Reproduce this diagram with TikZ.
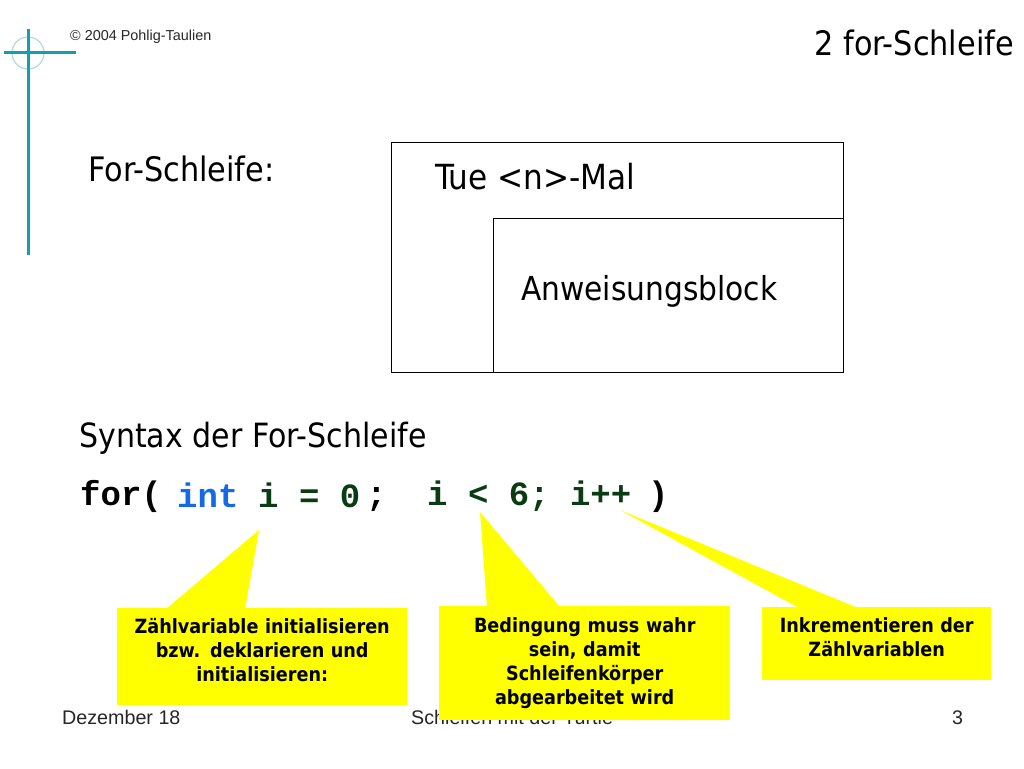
\documentclass[tikz,border=0pt]{standalone}
\usepackage{fontspec}
\setmainfont{DejaVu Sans Condensed}
\newfontfamily\footfont{Liberation Sans}
\setmonofont{Liberation Mono}
\definecolor{crossteal}{RGB}{20,160,170}
\definecolor{crosslight}{RGB}{175,220,222}
\definecolor{codeblue}{RGB}{20,105,230}
\definecolor{codegreen}{RGB}{10,60,20}
\definecolor{noteyellow}{RGB}{255,255,0}
\tikzset{
	head/.style={anchor=base west,inner sep=0pt,font=\fontsize{33.7}{33.7}\selectfont},
	foot/.style={anchor=base west,inner sep=0pt,text=black!85,font=\footfont\fontsize{19.7}{19.7}\selectfont},
	code/.style={anchor=base west,inner sep=0pt,font=\ttfamily\bfseries\fontsize{34}{34}\selectfont},
	callout/.style={fill=noteyellow,inner sep=0pt,align=center,anchor=north west,font=\bfseries\fontsize{19.6}{24}\selectfont},
	tail/.style={fill=noteyellow}
}
\begin{document}
\begin{tikzpicture}[x=1pt,y=-1pt]
		\useasboundingbox (0,0) rectangle (1024,768);
		% Corner cross
		\draw[crosslight,line width=1.2pt] (28,53) circle (16);
		\draw[crossteal,line width=3pt] (28,29) -- (28,255);
		\draw[crossteal,line width=3pt] (4,53) -- (76,53);
		\node[foot,font=\footfont\fontsize{14.4}{14.4}\selectfont] (copy) at (70,41) {© 2004 Pohlig-Taulien};
		\node[head,anchor=base east] (title) at (1014,56) {2 for-Schleife};
		% Structogram
		\node[head] (forhead) at (88,181) {For-Schleife:};
		\draw[line width=0.8pt] (391,142) rectangle (843,372);
		\draw[line width=0.8pt] (493,372) -- (493,218) -- (843,218);
		\node[head,font=\fontsize{34.6}{34.6}\selectfont] (tue) at (435,189) {Tue <n>-Mal};
		\node[head,font=\fontsize{33}{33}\selectfont] (block) at (521,300) {Anweisungsblock};
		% Syntax line
		\node[head,font=\fontsize{33.4}{33.4}\selectfont] (syntax) at (79,447) {Syntax der For-Schleife};
		\node[code] (kfor) at (80,505) {for(};
		\node[code,text=codeblue] (kint) at (177,507) {int};
		\node[code,text=codegreen] (kinit) at (258,507) {i = 0};
		\node[code] (ksemi) at (366,505) {;};
		\node[code,text=codegreen] (kcond) at (427,505) {i < 6; i++};
		\node[code] (kclose) at (648,505) {)};
		% Footer
		\node[foot] (date) at (62,724) {Dezember 18};
		\node[foot] (topic) at (411,724) {Schleifen mit der Turtle};
		\node[foot] (page) at (952,724) {3};
		% Callouts
		\coordinate (tipa) at (259,530);
		\coordinate (tipb) at (480,512);
		\coordinate (tipc) at (620,510);
		\fill[tail] (tipa) -- (166,609) -- (245,609) -- cycle;
		\fill[tail] (tipb) -- (487,607) -- (560,607) -- cycle;
		\fill[tail] (tipc) -- (799,608) -- (858,608) -- cycle;
		\node[callout,minimum width=290pt,minimum height=97pt] (inita) at (117,608) {};
		\node[callout,fill=none,text width=290pt] (initt) at (117,618) {Zählvariable initialisieren\\bzw. deklarieren und\\initialisieren:};
		\node[callout,minimum width=291pt,minimum height=114pt] (conda) at (439,606) {};
		\node[callout,fill=none,text width=291pt] (condt) at (439,617) {Bedingung muss wahr\\sein, damit\\Schleifenkörper\\abgearbeitet wird};
		\node[callout,minimum width=229pt,minimum height=73pt] (inca) at (762,607) {};
		\node[callout,fill=none,text width=229pt] (inct) at (762,617) {Inkrementieren der\\Zählvariablen};
	\end{tikzpicture}
\end{document}
